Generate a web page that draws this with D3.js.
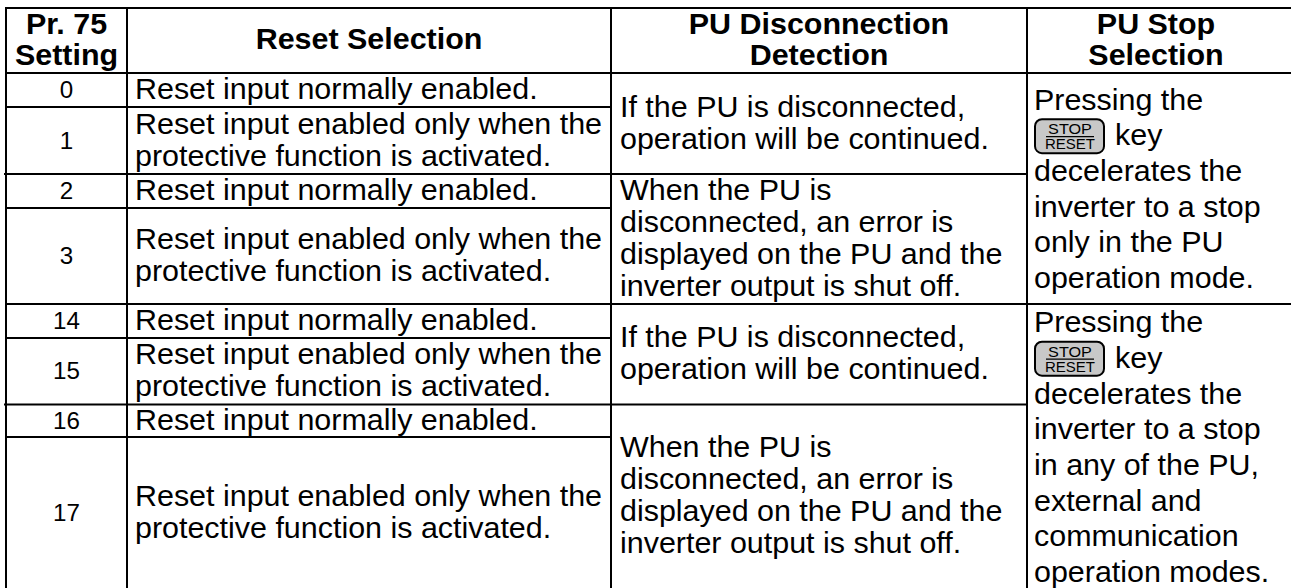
<!DOCTYPE html>
<html><head><meta charset="utf-8">
<script src="https://cdn.jsdelivr.net/npm/d3@7"></script>
<style>html,body{margin:0;padding:0;background:#fff}svg{display:block}text{font-family:"Liberation Sans",Arial,sans-serif;fill:#000}</style>
</head><body><svg id="c" width="1291" height="588"></svg>
<script>
const headers = [["Pr. 75","Setting"],["Reset Selection"],["PU Disconnection","Detection"],["PU Stop","Selection"]];
const settings = ["0","1","2","3","14","15","16","17"];
const NORMAL = ["Reset input normally enabled."];
const ONLY = ["Reset input enabled only when the","protective function is activated."];
const resetText = [NORMAL,ONLY,NORMAL,ONLY,NORMAL,ONLY,NORMAL,ONLY];
const CONT = ["If the PU is disconnected,","operation will be continued."];
const ERR = ["When the PU is","disconnected, an error is","displayed on the PU and the","inverter output is shut off."];
const detectText = [CONT,ERR,CONT,ERR];
const stopText = [
 ["Pressing the","@key","decelerates the","inverter to a stop","only in the PU","operation mode."],
 ["Pressing the","@key","decelerates the","inverter to a stop","in any of the PU,","external and","communication","operation modes."]];
const colEdges = [6,127,611,1027,1291];
const rowEdges = [8,73,107,174,208,304,338,404.5,437,588];
const FS = 29, SX = 1.05;

const svg = d3.select("#c");
const lines = svg.append("g"), txt = svg.append("g");
const hl=(x1,x2,y)=>lines.append("line").attr("x1",x1).attr("x2",x2).attr("y1",y).attr("y2",y).attr("stroke","#000").attr("stroke-width",2);
const vl=(x,y1,y2)=>lines.append("line").attr("x1",x).attr("x2",x).attr("y1",y1).attr("y2",y2).attr("stroke","#000").attr("stroke-width",2);
const W=colEdges[4];
colEdges.slice(0,4).forEach(x=>vl(x,rowEdges[0]-1,588));
hl(5,W,rowEdges[0]);hl(5,W,rowEdges[1]);hl(5,W,rowEdges[5]);
hl(5,colEdges[2],rowEdges[2]);hl(4,colEdges[3],rowEdges[3]);hl(5,colEdges[2],rowEdges[4]);
hl(5,colEdges[2],rowEdges[6]);hl(4,colEdges[3],rowEdges[7]);hl(5,colEdges[2],rowEdges[8]);

function label(x,y,s,size,anchor,weight){
  return txt.append("text").attr("transform",`translate(${x},${y}) scale(${SX},1)`).attr("dy","0.35em")
    .attr("font-size",size).attr("font-weight",weight||400).attr("text-anchor",anchor).text(s);
}
function block(ls,x,cy,size,lh,anchor,weight){
  const y0=cy-(ls.length-1)*lh/2;
  ls.forEach((s,i)=>label(x,y0+i*lh,s,size,anchor,weight));
}
headers.forEach((h,i)=>{
  block(h,(colEdges[i]+Math.min(colEdges[i+1],1285))/2,39,FS,31,"middle",700);
});
settings.forEach((s,i)=>{
  const top=rowEdges[i+1],bot=rowEdges[i+2];
  block([s],66.5,(top+bot)/2,23,0,"middle");
  block(resetText[i],135,(top+bot)/2-1,FS,32,"start");
});
[[1,3],[3,5],[5,7],[7,9]].forEach((r,i)=>{
  block(detectText[i],620,(rowEdges[r[0]]+rowEdges[r[1]])/2-1,FS,32,"start");
});
function key(g,x,y){
  const k=g.append("g").attr("transform",`translate(${x},${y})`);
  k.append("rect").attr("width",69).attr("height",34).attr("rx",7).attr("fill","#c8c8c8").attr("stroke","#000").attr("stroke-width",2);
  k.append("text").attr("transform","translate(35,15) scale(1.08,1)").attr("text-anchor","middle").attr("font-size",15).text("STOP");
  k.append("line").attr("x1",11).attr("x2",59).attr("y1",17.5).attr("y2",17.5).attr("stroke","#000").attr("stroke-width",1.2);
  k.append("text").attr("transform","translate(35,30) scale(1,1)").attr("text-anchor","middle").attr("font-size",15).text("RESET");
}
[99.5,322].forEach((top,b)=>{
  stopText[b].forEach((s,j)=>{
    const y=top+j*35.7;
    if(s==="@key"){
      key(txt,1035,y-16);
      label(1115,y,"key",FS,"start");
    } else label(1034,y,s,FS,"start");
  });
});
</script></body></html>
